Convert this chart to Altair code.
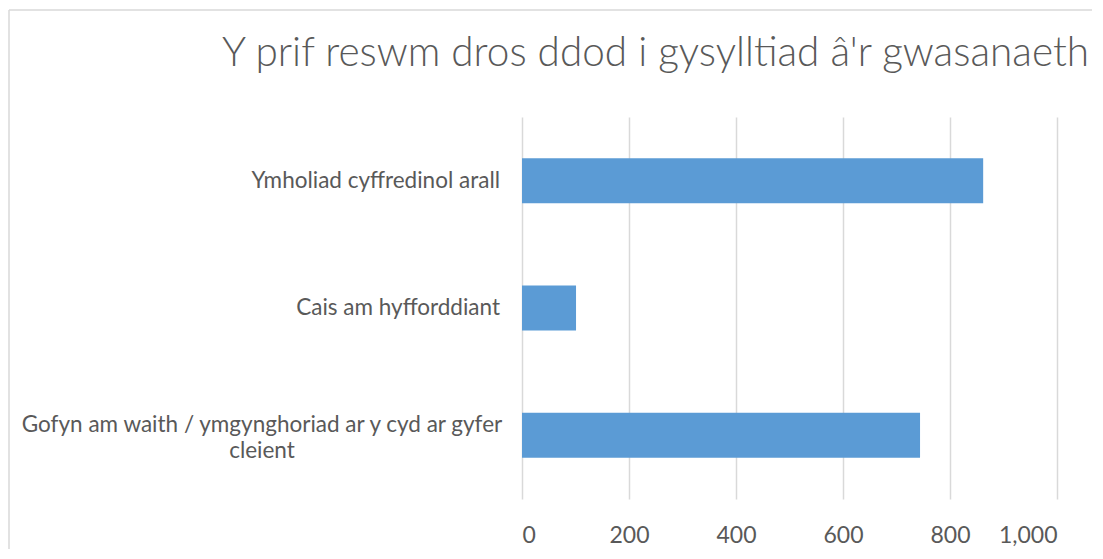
import altair as alt
import pandas as pd

# Data
categories = [
    "Ymholiad cyffredinol arall",
    "Cais am hyfforddiant",
    "Gofyn am waith / ymgynghoriad ar y cyd ar gyfer cleient",
]
label_lines = [
    "Ymholiad cyffredinol arall",
    "Cais am hyfforddiant",
    "Gofyn am waith / ymgynghoriad ar y cyd ar gyfer|cleient",
]
values = [862, 101, 744]
x_ticks = [0, 200, 400, 600, 800, 1000]
title_text = "Y prif reswm dros ddod i gysylltiad â'r gwasanaeth"

df = pd.DataFrame({"category": categories, "label": label_lines, "value": values})

FONT = "Lato"
TXT = "#595959"
GRID = "#d9d9d9"
BAR = "#5b9bd5"

yenc = alt.Y(
    "category:N",
    sort=categories,
    scale=alt.Scale(paddingInner=0.647, paddingOuter=0.3235),
    axis=None,
)

base = alt.Chart(df)

bars = base.mark_bar(color=BAR).encode(
    x=alt.X(
        "value:Q",
        scale=alt.Scale(domain=[0, 1000], nice=False),
        axis=alt.Axis(
            values=x_ticks,
            format=",.0f",
            grid=True,
            gridColor=GRID,
            gridWidth=1.5,
            domain=False,
            ticks=False,
            tickSize=0,
            labelPadding=25,
            labelFontSize=23,
            labelFont=FONT,
            labelColor=TXT,
            title=None,
        ),
    ),
    y=yenc,
)

short_labels = (
    base.transform_filter("indexof(datum.label, '|') < 0")
    .mark_text(align="right", baseline="middle", font=FONT, fontSize=22.5, color=TXT)
    .encode(x=alt.value(-22), y=yenc, text="label:N")
)

long_labels = (
    base.transform_filter("indexof(datum.label, '|') >= 0")
    .mark_text(
        align="center", baseline="middle", font=FONT, fontSize=22.5, color=TXT,
        lineBreak="|", lineHeight=26, dy=-10,
    )
    .encode(x=alt.value(-260), y=yenc, text="label:N")
)

one = pd.DataFrame({"k": [0]})
border_top = alt.Chart(one).mark_rule(color=GRID, strokeWidth=1.5).encode(
    x=alt.value(-513), x2=alt.value(570), y=alt.value(-107)
)
border_left = alt.Chart(one).mark_rule(color=GRID, strokeWidth=1.5).encode(
    x=alt.value(-513), y=alt.value(-107), y2=alt.value(440)
)

chart = (
    alt.layer(border_top, border_left, bars, short_labels, long_labels)
    .properties(
        width=535,
        height=382,
        autosize=alt.AutoSizeParams(type="none"),
        padding={"left": 514, "top": 109, "right": 36, "bottom": 50},
        title=alt.TitleParams(
            text=title_text,
            anchor="middle",
            frame="group",
            dx=-134,
            baseline="alphabetic",
            offset=-97,
            font=FONT,
            fontSize=40.5,
            fontWeight=300,
            color=TXT,
        ),
    )
    .configure_view(stroke=None)
)

chart.save("out.html", embed_options={"renderer": "svg", "actions": False})
